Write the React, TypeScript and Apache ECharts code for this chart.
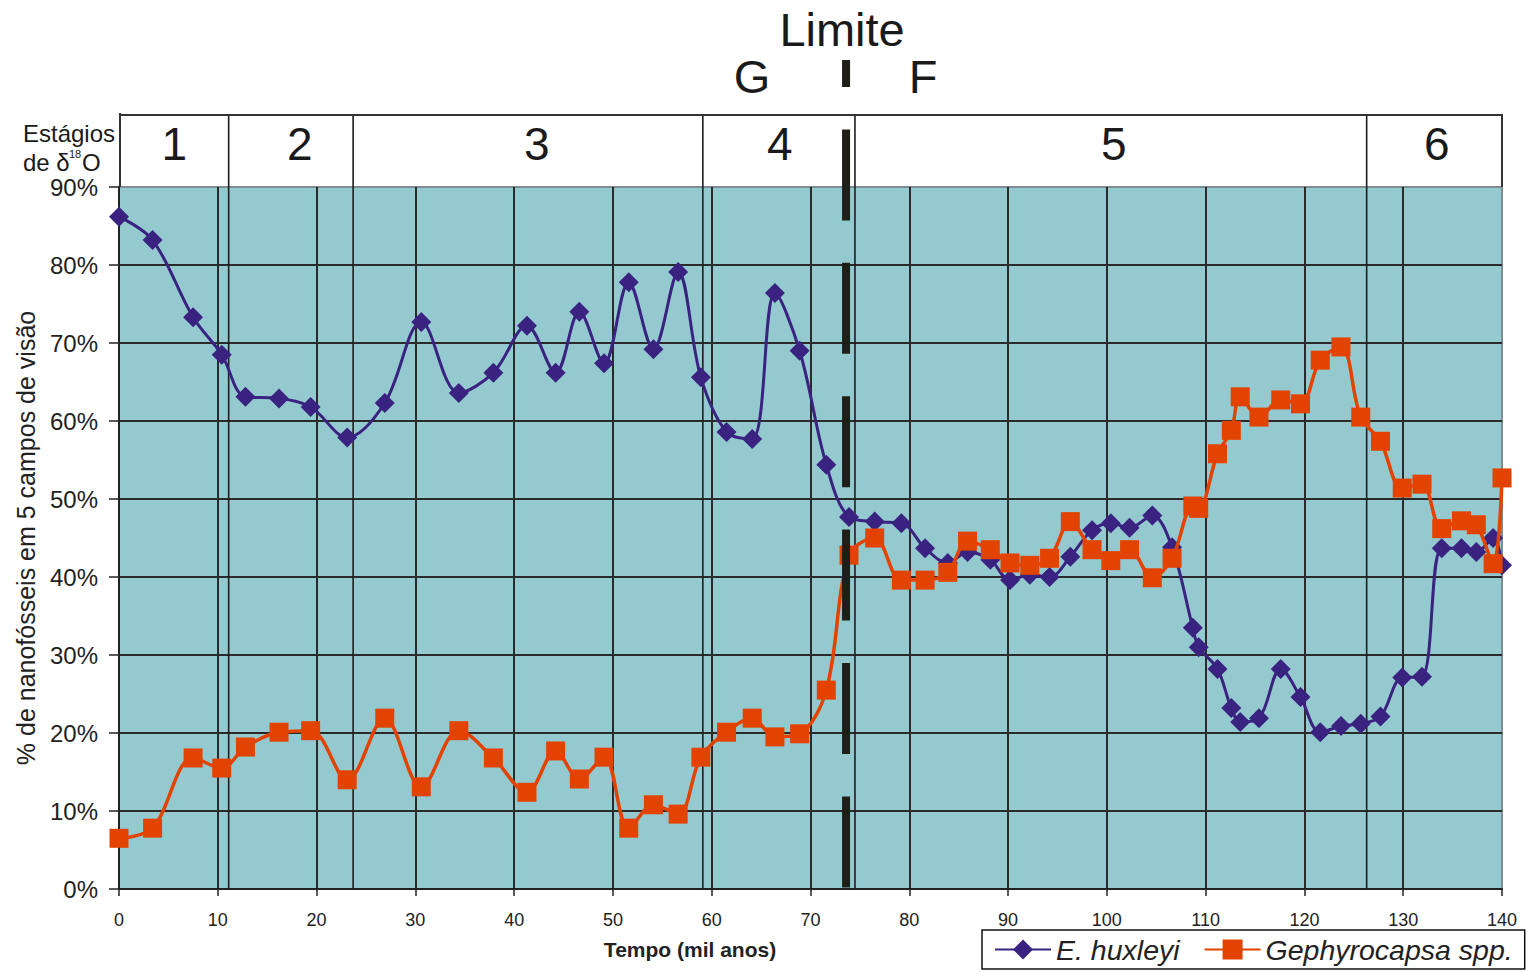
import React, { useEffect, useRef } from "react";
import * as echarts from "echarts";

// Sample ages (thousand years)
const ages = [
  0, 3.4, 7.5, 10.4, 12.8, 16.2, 19.4, 23.1, 26.9, 30.6, 34.4, 37.9, 41.3, 44.2, 46.6,
  49.1, 51.6, 54.1, 56.6, 58.9, 61.5, 64.1, 66.4, 68.9, 71.6, 73.9, 76.5, 79.2, 81.6,
  83.9, 85.9, 88.2, 90.2, 92.2, 94.2, 96.3, 98.5, 100.4, 102.3, 104.6, 106.6, 108.7,
  109.3, 111.2, 112.6, 113.5, 115.4, 117.6, 119.6, 121.6, 123.7, 125.7, 127.7, 129.9,
  131.9, 133.9, 135.9, 137.4, 139.1, 140.0,
];

// % E. huxleyi
const eHuxleyi = [
  86.2, 83.2, 73.3, 68.5, 63.1, 62.9, 61.8, 57.9, 62.3, 72.7, 63.6, 66.2, 72.2, 66.2, 74.0,
  67.4, 77.8, 69.2, 79.1, 65.6, 58.6, 57.7, 76.4, 69.0, 54.4, 47.7, 47.1, 46.9, 43.7,
  41.8, 43.2, 42.2, 39.6, 40.3, 40.0, 42.6, 46.0, 46.9, 46.3, 47.9, 43.8, 33.5,
  31.0, 28.2, 23.2, 21.4, 21.9, 28.2, 24.6, 20.1, 20.9, 21.2, 22.1, 27.1,
  27.2, 43.7, 43.7, 43.2, 45.0, 41.5,
];

// % Gephyrocapsa spp.
const gephyrocapsa = [
  6.5, 7.8, 16.8, 15.5, 18.2, 20.1, 20.3, 14.0, 21.9, 13.1, 20.3, 16.8, 12.4, 17.7, 14.1,
  16.9, 7.8, 10.8, 9.6, 16.9, 20.1, 21.9, 19.5, 19.9, 25.5, 42.8, 45.0, 39.6, 39.6,
  40.6, 44.6, 43.5, 41.8, 41.5, 42.4, 47.1, 43.5, 42.1, 43.5, 39.9, 42.4, 49.1,
  48.8, 55.8, 58.8, 63.1, 60.5, 62.7, 62.2, 67.8, 69.5, 60.5, 57.4, 51.4,
  51.9, 46.2, 47.2, 46.7, 41.7, 52.7,
];

// Oxygen isotope stage boundaries (ages), labels and label positions (ages)
const stageBounds = [0, 11.1, 23.7, 59.1, 74.5, 126.3, 140];
const stageLabels = ["1", "2", "3", "4", "5", "6"];
const stageLabelAges = [5.6, 18.3, 42.3, 66.9, 100.7, 133.4];
const limiteAge = 73.6;

const FONT = "'Liberation Sans', Arial, sans-serif";

export default function App() {
  const ref = useRef<HTMLDivElement>(null);

  useEffect(() => {
    const chart = echarts.init(ref.current as HTMLDivElement, null, { renderer: "svg" });
    chart.setOption({
      animation: false,
      backgroundColor: "#ffffff",
      grid: {
        left: 119,
        right: 26,
        top: 187,
        bottom: 83,
        containLabel: false,
        outerBoundsMode: "none",
        show: true,
        backgroundColor: "#94cacf",
        borderColor: "#7f8d91",
        borderWidth: 2,
      },
      xAxis: {
        type: "value",
        min: 0,
        max: 140,
        interval: 10,
        axisLine: { show: true, lineStyle: { color: "#222", width: 2 } },
        axisTick: { show: true, length: 7, lineStyle: { color: "#222", width: 1.5 } },
        axisLabel: { fontSize: 18, color: "#222", fontFamily: FONT, margin: 22 },
        splitLine: { show: true, showMaxLine: false, lineStyle: { color: "#2a2a2a", width: 2 } },
      },
      yAxis: {
        type: "value",
        min: 0,
        max: 90,
        interval: 10,
        name: "% de nanofósseis em 5 campos de visão",
        nameLocation: "middle",
        nameGap: 81,
        nameTextStyle: { fontSize: 25, color: "#222", fontFamily: FONT },
        axisLine: { show: true, lineStyle: { color: "#222", width: 2 } },
        axisTick: { show: true, length: 10, lineStyle: { color: "#222", width: 1.5 } },
        axisLabel: { fontSize: 24, color: "#222", fontFamily: FONT, margin: 21, formatter: "{value}%" },
        splitLine: { show: true, showMaxLine: false, lineStyle: { color: "#2a2a2a", width: 2 } },
      },
      legend: {
        left: 982,
        top: 930,
        orient: "horizontal",
        padding: [5, 12, 5, 12],
        itemGap: 24,
        itemWidth: 56,
        itemHeight: 25,
        borderColor: "#111",
        borderWidth: 1.5,
        backgroundColor: "#fff",
        textStyle: { fontSize: 28.5, fontStyle: "italic", color: "#222", fontFamily: FONT },
        data: ["E. huxleyi", "Gephyrocapsa spp."],
      },
      series: [
        {
          name: "E. huxleyi",
          type: "line",
          smooth: 0.35,
          symbol: "diamond",
          symbolSize: 20,
          z: 3,
          itemStyle: { color: "#3a2380" },
          lineStyle: { color: "#3a2380", width: 3 },
          data: ages.map((a, i) => [a, eHuxleyi[i]]),
        },
        {
          name: "Gephyrocapsa spp.",
          type: "line",
          smooth: 0.35,
          symbol: "rect",
          symbolSize: 19,
          z: 4,
          itemStyle: { color: "#e34300" },
          lineStyle: { color: "#e34300", width: 3.5 },
          data: ages.map((a, i) => [a, gephyrocapsa[i]]),
        },
      ],
    });

    const px = (x: number, y: number) => chart.convertToPixel({ gridIndex: 0 }, [x, y]) as number[];
    const plotTop = px(0, 90)[1];
    const plotBottom = px(0, 0)[1];
    const xLeft = px(0, 0)[0];
    const xRight = px(140, 0)[0];
    const boxTop = plotTop - 72;
    const limX = px(limiteAge, 0)[0];

    const graphics: any[] = [];
    // stage box outline
    graphics.push({
      type: "line",
      z: 5,
      shape: { x1: xLeft, y1: boxTop, x2: xRight + 1, y2: boxTop },
      style: { stroke: "#333", lineWidth: 2 },
    });
    graphics.push({
      type: "line",
      z: 5,
      shape: { x1: xLeft + 1, y1: boxTop - 2, x2: xLeft + 1, y2: plotTop },
      style: { stroke: "#333", lineWidth: 2 },
    });
    graphics.push({
      type: "line",
      z: 5,
      shape: { x1: xRight, y1: boxTop, x2: xRight, y2: plotTop },
      style: { stroke: "#333", lineWidth: 2 },
    });
    // stage dividers
    stageBounds.slice(1, -1).forEach((b) => {
      const x = px(b, 0)[0];
      graphics.push({
        type: "line",
        z: 1,
        shape: { x1: x, y1: boxTop, x2: x, y2: plotBottom },
        style: { stroke: "#1c1c1c", lineWidth: 1.6 },
      });
    });
    // stage labels
    stageLabels.forEach((s, i) => {
      const x = px(stageLabelAges[i], 0)[0];
      graphics.push({
        type: "text",
        z: 5,
        x,
        y: boxTop + 29,
        style: { text: s, fill: "#1a1a1a", font: `46px ${FONT}`, align: "center", verticalAlign: "middle" },
      });
    });
    // Estágios de δ18O
    graphics.push({
      type: "text",
      z: 5,
      x: 23,
      y: boxTop + 18,
      style: { text: "Estágios", fill: "#1a1a1a", font: `24px ${FONT}`, align: "left", verticalAlign: "middle" },
    });
    graphics.push({
      type: "text",
      z: 5,
      x: 23,
      y: boxTop + 47,
      style: { text: "de δ", fill: "#1a1a1a", font: `24px ${FONT}`, align: "left", verticalAlign: "middle" },
    });
    graphics.push({
      type: "text",
      z: 5,
      x: 69,
      y: boxTop + 39,
      style: { text: "18", fill: "#1a1a1a", font: `11px ${FONT}`, align: "left", verticalAlign: "middle" },
    });
    graphics.push({
      type: "text",
      z: 5,
      x: 82,
      y: boxTop + 47,
      style: { text: "O", fill: "#1a1a1a", font: `24px ${FONT}`, align: "left", verticalAlign: "middle" },
    });
    // Limite G | F
    graphics.push({
      type: "text",
      z: 5,
      x: limX - 4,
      y: 29,
      style: { text: "Limite", fill: "#1a1a1a", font: `47px ${FONT}`, align: "center", verticalAlign: "middle" },
    });
    graphics.push({
      type: "text",
      z: 5,
      x: limX - 94,
      y: 76,
      style: { text: "G", fill: "#1a1a1a", font: `47px ${FONT}`, align: "center", verticalAlign: "middle" },
    });
    graphics.push({
      type: "text",
      z: 5,
      x: limX + 77,
      y: 76,
      style: { text: "F", fill: "#1a1a1a", font: `47px ${FONT}`, align: "center", verticalAlign: "middle" },
    });
    graphics.push({
      type: "line",
      z: 100,
      shape: { x1: limX, y1: 60, x2: limX, y2: plotBottom },
      style: { stroke: "#201e18", lineWidth: 8, lineDash: [91, 42.4], lineDashOffset: 64 },
    });
    // x-axis name
    graphics.push({
      type: "text",
      z: 5,
      x: 690,
      y: plotBottom + 60,
      style: { text: "Tempo (mil anos)", fill: "#222", font: `bold 21px ${FONT}`, align: "center", verticalAlign: "middle" },
    });

    chart.setOption({ graphic: graphics });

    return () => chart.dispose();
  }, []);

  return <div ref={ref} style={{ position: "fixed", left: 0, top: 0, width: 1528, height: 972 }} />;
}
